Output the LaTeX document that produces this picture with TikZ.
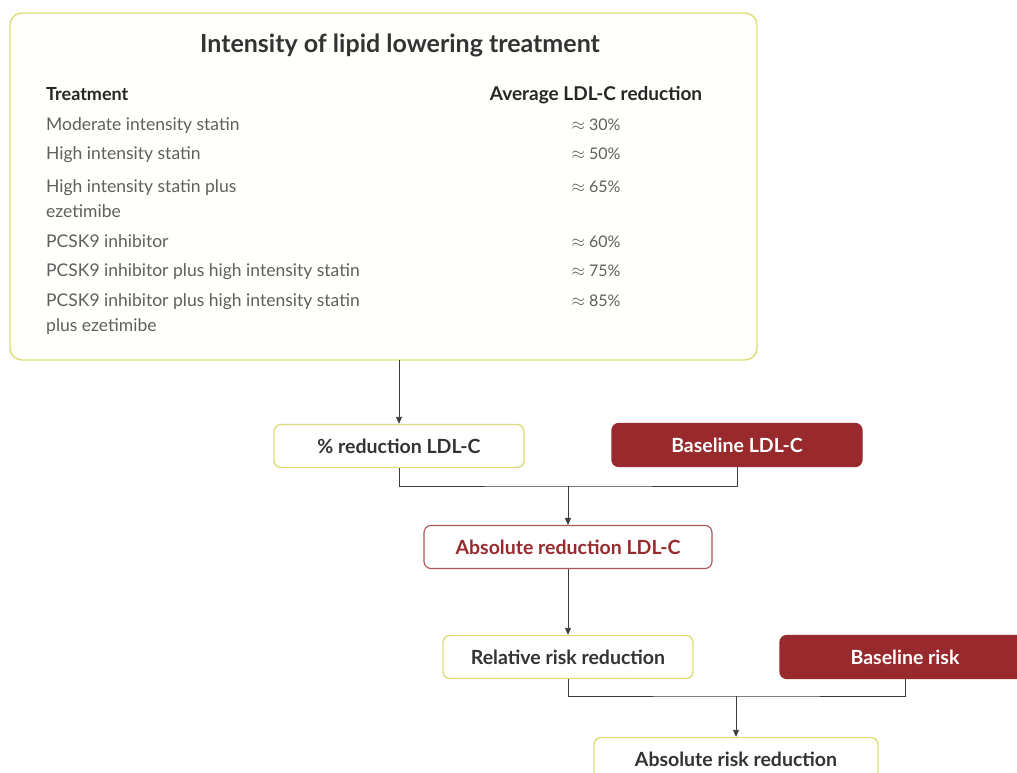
\documentclass[tikz,border=0pt]{standalone}
\usepackage{fontspec}
\setmainfont{Lato}
\usepackage{xcolor}
\usepackage{tikz}
\usetikzlibrary{arrows.meta}

\definecolor{boxyellow}{RGB}{219,222,120}
\definecolor{darkred}{RGB}{152,42,45}
\definecolor{textgray}{RGB}{95,95,95}
\definecolor{linegray}{RGB}{60,60,60}

\tikzset{
    yellowbox/.style = {draw = boxyellow, line width = 1.4pt, fill = white, rounded corners = 7pt,
        minimum width = 250pt, minimum height = 43pt, font = \fontsize{19.5}{22}\selectfont\bfseries, text = black!80},
    redbox/.style = {draw = darkred, line width = 1.4pt, fill = darkred, rounded corners = 7pt,
        minimum width = 250pt, minimum height = 43pt, font = \fontsize{19.5}{22}\selectfont\bfseries, text = white},
    redline/.style = {draw = darkred!80, line width = 1.1pt, fill = white, rounded corners = 7pt,
        minimum width = 288pt, minimum height = 43pt, font = \fontsize{19.5}{22}\selectfont\bfseries, text = darkred},
    rowtext/.style = {anchor = base west, inner sep = 0pt, font = \fontsize{17.5}{21}\selectfont, text = textgray},
    valtext/.style = {anchor = base, inner sep = 0pt, font = \fontsize{16}{19}\selectfont, text = textgray},
    connector/.style = {draw = linegray, line width = 0.9pt},
    tip/.style = {-{Triangle[length = 7pt, width = 6pt]}}
}

\begin{document}
\begin{tikzpicture}[x = 1pt, y = -1pt]
    \useasboundingbox (0, 0) rectangle (1017, 773);
    \clip (0, 0) rectangle (1017, 773);

    % treatment table
    \draw[draw = boxyellow, line width = 1.4pt, fill = white!99!yellow, rounded corners = 12pt]
        (10, 13) rectangle (757, 360);
    \coordinate (tabletop) at (399, 360);
    \node[font = \fontsize{25}{30}\selectfont\bfseries, text = black!80] (title) at (400, 45)
        {Intensity of lipid lowering treatment};

    \node[rowtext, text = black!85, font = \fontsize{18}{21}\selectfont\bfseries] (headtreat) at (46, 101) {Treatment};
    \node[valtext, text = black!85, font = \fontsize{19}{22}\selectfont\bfseries] (headavg) at (596, 101) {Average LDL-C reduction};

    \node[rowtext] (row1) at (46, 131) {Moderate intensity statin};
    \node[rowtext] (row2) at (46, 160) {High intensity statin};
    \node[rowtext] (row3) at (46, 192) {High intensity statin plus};
    \node[rowtext] (row3b) at (46, 217) {ezetimibe};
    \node[rowtext] (row4) at (46, 247) {PCSK9 inhibitor};
    \node[rowtext] (row5) at (46, 276) {PCSK9 inhibitor plus high intensity statin};
    \node[rowtext] (row6) at (46, 306) {PCSK9 inhibitor plus high intensity statin};
    \node[rowtext] (row6b) at (46, 331) {plus ezetimibe};

    \foreach \y/\v/\name in {131/30/val1, 160/50/val2, 192/65/val3, 247/60/val4, 276/75/val5, 306/85/val6}
        \node[valtext] (\name) at (596, \y) {$\approx$ \v\%};

    % flow boxes
    \node[yellowbox] (pctldl) at (399, 446) {\% reduction LDL-C};
    \node[redbox] (baseldl) at (737, 445) {Baseline LDL-C};
    \node[redline] (absldl) at (568, 547) {Absolute reduction LDL-C};
    \node[yellowbox] (rrr) at (568, 657) {Relative risk reduction};
    \node[redbox] (baserisk) at (905, 657) {Baseline risk};
    \node[yellowbox, minimum width = 284pt] (arr) at (736, 759) {Absolute risk reduction};

    % connectors
    \coordinate (join1) at (568, 486);
    \coordinate (join2) at (736, 696);
    \draw[connector, tip] (tabletop) -- (pctldl.north);
    \draw[connector] (pctldl.south) |- (join1) -| (baseldl.south);
    \draw[connector, tip] (join1) -- (absldl.north);
    \draw[connector, tip] (absldl.south) -- (rrr.north);
    \draw[connector] (rrr.south) |- (join2) -| (baserisk.south);
    \draw[connector, tip] (join2) -- (arr.north);
\end{tikzpicture}
\end{document}
